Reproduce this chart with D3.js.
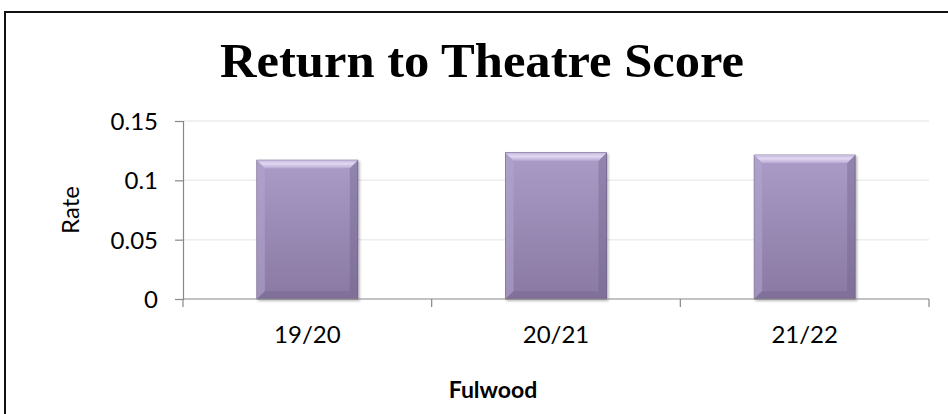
<!DOCTYPE html>
<html>
<head>
<meta charset="utf-8">
<title>Return to Theatre Score</title>
<script src="https://d3js.org/d3.v7.min.js"></script>
<style>
  body { margin: 0; background: #fff; }
  svg { display: block; }
  .tick text { font-family: Lato, "Open Sans", sans-serif; font-size: 24px; fill: #000; }
</style>
</head>
<body>
<svg width="948" height="414"></svg>
<script>
// data
var seasons = ["19/20", "20/21", "21/22"];
var rates = [0.117, 0.1233, 0.1213];
var yTicks = [0, 0.05, 0.1, 0.15];

var svg = d3.select("svg");
var margin = {top: 121, right: 19, bottom: 115, left: 183};
var width = 948 - margin.left - margin.right,
    height = 414 - margin.top - margin.bottom;

// outer chart frame (cropped on right and bottom)
svg.append("rect")
  .attr("x", 5).attr("y", 12)
  .attr("width", 1000).attr("height", 500)
  .attr("fill", "#fff")
  .attr("stroke", "#111")
  .attr("stroke-width", 2);

var x = d3.scaleBand()
  .domain(seasons)
  .range([0, width])
  .paddingInner(0.594)
  .paddingOuter(0.297);

var y = d3.scaleLinear()
  .domain([0, 0.15])
  .range([height, 0]);

var g = svg.append("g")
  .attr("transform", "translate(" + margin.left + "," + margin.top + ")");

// gridlines
g.selectAll(".grid")
  .data(yTicks.slice(1))
  .enter().append("line")
  .attr("x1", 0).attr("x2", width)
  .attr("y1", function(d) { return y(d); })
  .attr("y2", function(d) { return y(d); })
  .attr("stroke", "#ededed")
  .attr("stroke-width", 1.5);

// gradients
var defs = svg.append("defs");
var face = defs.append("linearGradient")
  .attr("id", "face").attr("x1", 0).attr("y1", 0).attr("x2", 0).attr("y2", 1);
face.append("stop").attr("offset", "0%").attr("stop-color", "#aa9cc7");
face.append("stop").attr("offset", "100%").attr("stop-color", "#8979a3");

var topBev = defs.append("linearGradient")
  .attr("id", "topbev").attr("x1", 0).attr("y1", 0).attr("x2", 0).attr("y2", 1);
topBev.append("stop").attr("offset", "0%").attr("stop-color", "#c4b7dc");
topBev.append("stop").attr("offset", "45%").attr("stop-color", "#e2d8f2");
topBev.append("stop").attr("offset", "100%").attr("stop-color", "#b9abd3");

var shadow = defs.append("filter").attr("id", "shadow")
  .attr("x", "-10%").attr("y", "-10%").attr("width", "120%").attr("height", "120%");
shadow.append("feDropShadow")
  .attr("dx", 1.5).attr("dy", 1.5).attr("stdDeviation", 1.2)
  .attr("flood-color", "#000").attr("flood-opacity", 0.3);

var bev = 8;
var bars = g.selectAll(".bar")
  .data(seasons.map(function(s, i) { return {s: s, v: rates[i]}; }))
  .enter().append("g")
  .attr("class", "bar")
  .attr("filter", "url(#shadow)");

bars.append("rect")
  .attr("x", function(d) { return x(d.s); })
  .attr("y", function(d) { return y(d.v); })
  .attr("width", x.bandwidth())
  .attr("height", function(d) { return y(0) - y(d.v); })
  .attr("fill", "url(#face)")
  .attr("stroke", "#6e6088")
  .attr("stroke-width", 0.8);

function bevel(d, side) {
  var x0 = x(d.s), x1 = x0 + x.bandwidth(), y0 = y(d.v), y1 = y(0);
  var p;
  if (side === "top") p = [[x0, y0], [x1, y0], [x1 - bev, y0 + bev], [x0 + bev, y0 + bev]];
  if (side === "left") p = [[x0, y0], [x0 + bev, y0 + bev], [x0 + bev, y1 - bev], [x0, y1]];
  if (side === "right") p = [[x1, y0], [x1, y1], [x1 - bev, y1 - bev], [x1 - bev, y0 + bev]];
  if (side === "bottom") p = [[x0, y1], [x0 + bev, y1 - bev], [x1 - bev, y1 - bev], [x1, y1]];
  return "M" + p.join("L") + "Z";
}

var sides = [
  {side: "left", fill: "#b3a5cd", op: 0.55},
  {side: "right", fill: "#6f6189", op: 0.4},
  {side: "bottom", fill: "#6c5e86", op: 0.3},
  {side: "top", fill: "url(#topbev)", op: 1}
];
sides.forEach(function(sd) {
  bars.append("path")
    .attr("d", function(d) { return bevel(d, sd.side); })
    .attr("fill", sd.fill)
    .attr("fill-opacity", sd.op);
});

// y axis
var yAxis = g.append("g")
  .call(d3.axisLeft(y).tickValues(yTicks).tickSize(8).tickPadding(17)
    .tickFormat(function(d) { return d === 0 ? "0" : String(d); }));
yAxis.select(".domain").attr("stroke", "#888").attr("stroke-width", 1.2);
yAxis.selectAll(".tick line").attr("stroke", "#888").attr("stroke-width", 1.2);
yAxis.selectAll(".tick text").attr("dy", "0.36em");

// x axis with ticks at category boundaries
var xAxis = g.append("g").attr("transform", "translate(0," + height + ")");
xAxis.append("line")
  .attr("x1", 0).attr("x2", width)
  .attr("stroke", "#888").attr("stroke-width", 1.2);
var bounds = [0].concat(seasons.map(function(s) { return x(s) + x.bandwidth() + x.step() * x.paddingInner() / 2; }));
bounds[bounds.length - 1] = width;
xAxis.selectAll(".xtick")
  .data(bounds)
  .enter().append("line")
  .attr("x1", function(d) { return d; }).attr("x2", function(d) { return d; })
  .attr("y1", 0).attr("y2", 8)
  .attr("stroke", "#888").attr("stroke-width", 1.2);
xAxis.selectAll(".xlabel")
  .data(seasons)
  .enter().append("text")
  .attr("x", function(d) { return x(d) + x.bandwidth() / 2; })
  .attr("y", 44)
  .attr("text-anchor", "middle")
  .style("font-family", "Lato, 'Open Sans', sans-serif")
  .style("font-size", "24px")
  .text(function(d) { return d; });

// titles
svg.append("text")
  .attr("x", 482).attr("y", 77)
  .attr("text-anchor", "middle")
  .style("font-family", "'Liberation Serif', 'DejaVu Serif', serif")
  .style("font-weight", "bold")
  .style("font-size", "48px")
  .attr("textLength", 524)
  .attr("lengthAdjust", "spacingAndGlyphs")
  .text("Return to Theatre Score");

svg.append("text")
  .attr("transform", "translate(79," + (margin.top + height / 2) + ") rotate(-90)")
  .attr("text-anchor", "middle")
  .style("font-family", "Lato, 'Open Sans', sans-serif")
  .style("font-size", "24px")
  .text("Rate");

svg.append("text")
  .attr("x", 493).attr("y", 398)
  .attr("text-anchor", "middle")
  .style("font-family", "Lato, 'Open Sans', sans-serif")
  .style("font-weight", "bold")
  .style("font-size", "23px")
  .text("Fulwood");
</script>
</body>
</html>
